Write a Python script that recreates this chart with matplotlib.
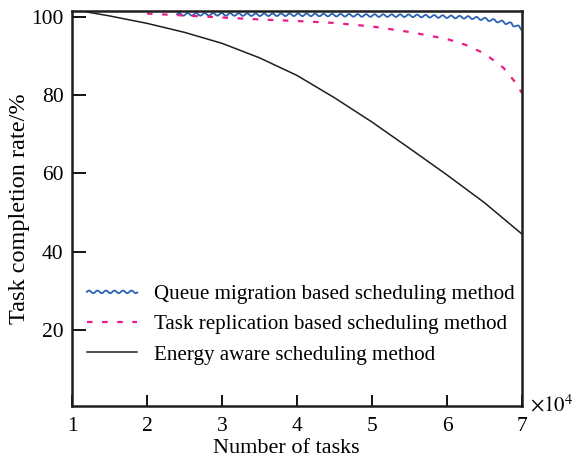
import numpy as np
import matplotlib
matplotlib.use("Agg")
import matplotlib.pyplot as plt
from matplotlib.patheffects import AbstractPathEffect
from matplotlib.path import Path
from matplotlib.transforms import IdentityTransform

# ---- data ----
x_queue = [2.4, 3.0, 3.5, 4.0, 4.5, 5.0, 5.5, 6.0, 6.3, 6.5, 6.7, 6.85, 7.0]
y_queue = [100.6, 100.6, 100.5, 100.5, 100.4, 100.3, 100.25, 100.0, 99.8, 99.4, 98.8, 98.2, 97.0]

x_repl = [2.0, 2.5, 3.0, 3.5, 4.0, 4.5, 5.0, 5.5, 6.0, 6.25, 6.5, 6.75, 6.9, 7.0]
y_repl = [100.8, 100.3, 99.8, 99.3, 98.9, 98.4, 97.5, 96.1, 94.3, 92.8, 90.6, 87.0, 83.5, 80.5]

x_energy = [1.2, 1.5, 2.0, 2.5, 3.0, 3.5, 4.0, 4.5, 5.0, 5.5, 6.0, 6.5, 7.0]
y_energy = [101.2, 100.2, 98.3, 96.0, 93.2, 89.5, 85.0, 79.3, 73.1, 66.4, 59.6, 52.5, 44.5]

labels = ["Queue migration based scheduling method",
          "Task replication based scheduling method",
          "Energy aware scheduling method"]
xticks = [1, 2, 3, 4, 5, 6, 7]
yticks = [20, 40, 60, 80, 100]


class Wavy(AbstractPathEffect):
    """Line style: draws the path with a regular small wave (in pixels)."""
    def __init__(self, period=9.0, amp=1.4):
        super().__init__()
        self.period = period
        self.amp = amp

    def draw_path(self, renderer, gc, tpath, affine, rgbFace=None):
        verts = affine.transform(tpath.vertices)
        verts = verts[np.all(np.isfinite(verts), axis=1)]
        if len(verts) < 2:
            return
        d = np.hypot(*np.diff(verts, axis=0).T)
        s = np.concatenate([[0], np.cumsum(d)])
        n = max(int(s[-1] / 0.5), 2)
        ss = np.linspace(0, s[-1], n)
        xx = np.interp(ss, s, verts[:, 0])
        yy = np.interp(ss, s, verts[:, 1])
        dx = np.gradient(xx)
        dy = np.gradient(yy)
        nrm = np.hypot(dx, dy)
        nrm[nrm == 0] = 1
        scale = renderer.points_to_pixels(1.0) / (100 / 72)
        off = self.amp * scale * np.sin(2 * np.pi * ss / (self.period * scale))
        new = np.column_stack([xx - dy / nrm * off, yy + dx / nrm * off])
        renderer.draw_path(gc, Path(new), IdentityTransform(), rgbFace)


plt.rcParams['font.family'] = ['Liberation Serif', 'DejaVu Serif']
plt.rcParams['mathtext.fontset'] = 'stix'

fig = plt.figure(figsize=(5.78, 4.61), dpi=100)
ax = fig.add_axes([0.1246, 0.1193, 0.7785, 0.8568])

ax.plot(x_queue, y_queue, color='#2a62b0', lw=1.3, label=labels[0],
        path_effects=[Wavy(8.5, 1.3)])
ax.plot(x_repl, y_repl, color='#ea1a86', lw=1.6, dashes=(2.5, 4.3), label=labels[1])
ax.plot(x_energy, y_energy, color='#1e1e1e', lw=1.1, label=labels[2])

ax.set_xlim(1, 7)
ax.set_ylim(0.6, 101.45)
ax.set_xticks(xticks)
ax.set_yticks(yticks)
ax.tick_params(direction='in', length=10, width=1.3, labelsize=15.5, pad=6)
ax.tick_params(axis='x', length=8, pad=8)
for sp in ax.spines.values():
    sp.set_linewidth(1.8)
    sp.set_color('#1e1e1e')

ax.set_xlabel("Number of tasks", fontsize=16)
ax.xaxis.set_label_coords(0.476, -0.083)
ax.set_ylabel("Task completion rate/%", fontsize=17.5)
ax.yaxis.set_label_coords(-0.093, 0.5)

fig.text(0.917, 0.121, r"$\times 10^{4}$", fontsize=15, ha='left', va='center')

leg = ax.legend(loc='lower left', bbox_to_anchor=(0.033, 0.105), frameon=False,
                fontsize=15.1, handlelength=2.4, handletextpad=0.8,
                labelspacing=0.5, borderpad=0, borderaxespad=0)

fig.savefig("out.png", dpi=100)
